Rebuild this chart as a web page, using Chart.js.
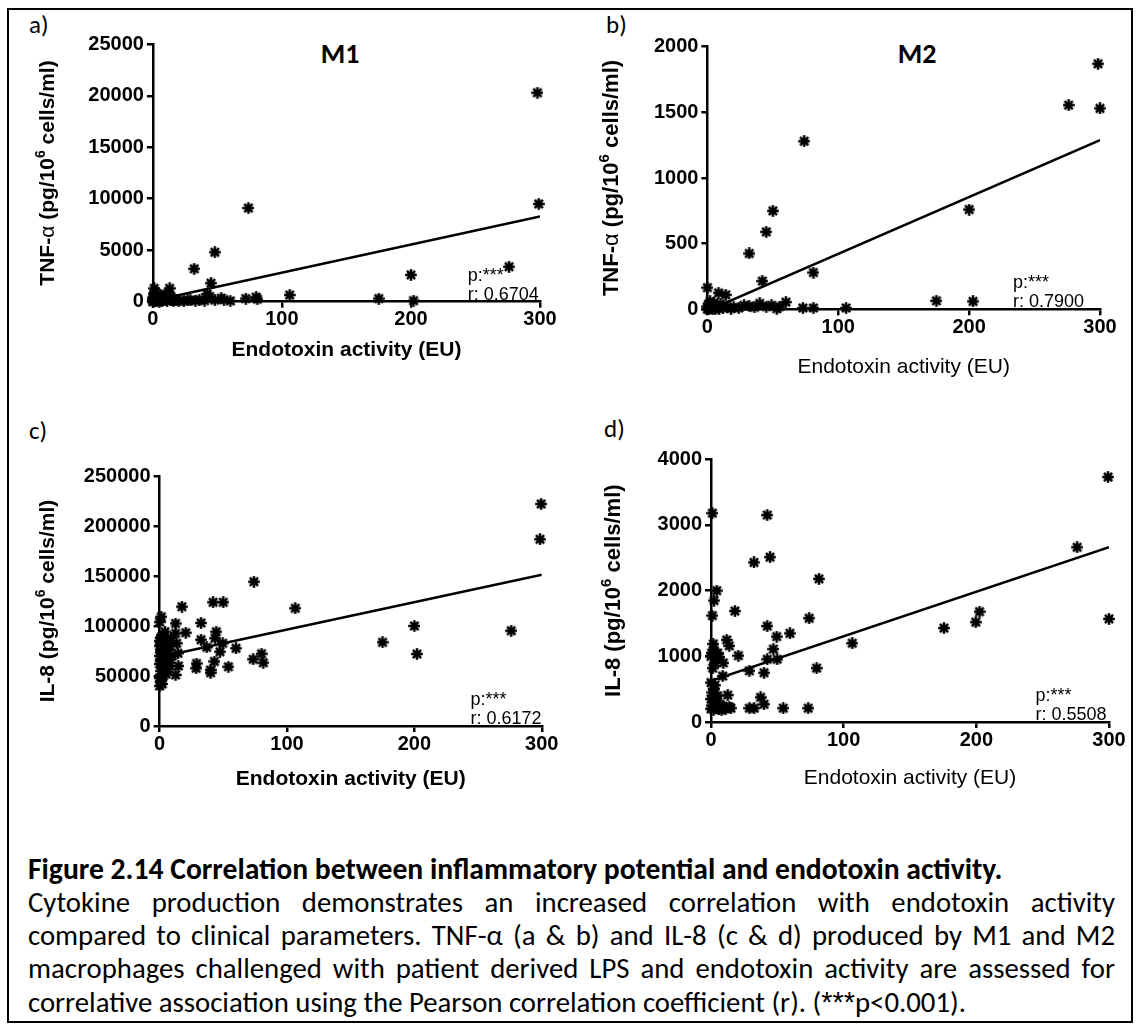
<!DOCTYPE html>
<html>
<head>
<meta charset="utf-8">
<script src="https://cdn.jsdelivr.net/npm/chart.js@4.4.1/dist/chart.umd.min.js"></script>
<style>
  body { margin: 0; background: #fff; }
  #fig { position: relative; width: 1138px; height: 1027px; overflow: hidden; color: #000;
         font-family: Carlito, Lato, sans-serif; }
  #frame { position: absolute; left: 7px; top: 8px; width: 1122px; height: 1011px; border: 2px solid #000; }
  canvas { position: absolute; }
  .lbl { position: absolute; font-size: 25px; line-height: 1; }
  .ttl { position: absolute; font-size: 28px; font-weight: bold; line-height: 1; transform: translate(-50%, -50%); }
  .cap { position: absolute; left: 28px; width: 1087px; line-height: 1; }
  .just { text-align: justify; text-align-last: justify; }
  .ast { font-family: "Liberation Sans", Arial, sans-serif; }
</style>
</head>
<body>
<div id="fig">
  <div id="frame"></div>
  <div class="lbl" style="left:29px;top:12px">a)</div>
  <div class="lbl" style="left:606px;top:12px">b)</div>
  <div class="lbl" style="left:29px;top:418px">c)</div>
  <div class="lbl" style="left:604px;top:416px">d)</div>
  <div class="ttl" style="left:340px;top:54px">M1</div>
  <div class="ttl" style="left:917px;top:54px">M2</div>
  <canvas id="chartA"></canvas>
  <canvas id="chartB"></canvas>
  <canvas id="chartC"></canvas>
  <canvas id="chartD"></canvas>
  <div class="cap" id="cap0" style="font-weight:bold">Figure 2.14 Correlation between inflammatory potential and endotoxin activity.</div>
  <div class="cap just" id="cap1">Cytokine production demonstrates an increased correlation with endotoxin activity</div>
  <div class="cap just" id="cap2">compared to clinical parameters. TNF-α (a &amp; b) and IL-8 (c &amp; d) produced by M1 and M2</div>
  <div class="cap just" id="cap3">macrophages challenged with patient derived LPS and endotoxin activity are assessed for</div>
  <div class="cap" id="cap4">correlative association using the Pearson correlation coefficient (r). (<span class="ast">***</span>p&lt;0.001).</div>
</div>
<script>
/* data: endotoxin activity (EU) vs cytokine */
var xA = [298, 299, 74, 48, 32, 45, 200, 276, 202, 175, 106, 80, 81, 72, 60, 53, 42, 44, 36, 29,
          40, 48, 55, 13, 1, 18, 20, 0, 0, 0, 1, 2, 2, 3, 4, 5, 6, 7, 8, 9,
          10, 11, 12, 14, 15, 16, 0, 3, 5, 1, 2, 6, 8, 10, 12, 14, 24, 27, 33];
var yA = [20300, 9500, 9100, 4800, 3200, 1800, 2600, 3400, 100, 300, 650, 450, 250, 300, 80, 350, 750, 500, 200, 150,
          100, 150, 200, 1300, 1300, 150, 100, 50, 200, 400, 800, 100, 600, 300, 150, 500, 200, 80, 400, 250,
          700, 100, 300, 500, 200, 80, 0, 50, 0, 300, 950, 650, 120, 300, 900, 150, 60, 120, 100];

var xB = [298.5, 300, 276, 74, 200, 50, 45, 32, 42, 81, 175, 203, 106, 81, 73, 60, 49, 40, 55, 28,
          32, 45, 0, 8.5, 14, 0, 0, 1, 2, 3, 4, 5, 6, 7, 9, 10, 12, 15, 18, 20,
          2, 4, 1, 6, 24, 36, 53];
var yB = [1870, 1530, 1555, 1280, 760, 750, 590, 425, 215, 280, 65, 60, 10, 10, 10, 55, 30, 45, 20, 30,
          25, 20, 165, 125, 110, 0, 20, 40, 10, 30, 5, 50, 15, 25, 5, 40, 10, 20, 5, 15,
          60, 35, 0, 0, 10, 15, 5];

var xC = [299.5, 298.6, 74, 42, 50, 17.5, 106.5, 200, 276, 175, 202, 32.5, 20.5, 44.5, 43.5, 32.5, 37, 49.5, 47.4, 60,
          80, 81.4, 73.5, 54, 43, 40, 40, 29, 28.7, 14.7, 12.5, 14.4, 12.5, 12.5, 13.4, 4.2, 1.3,
          0, 1, 2, 0, 3, 1, 5, 2, 0, 4, 6, 1, 3, 0, 2, 5, 7, 1, 3, 0,
          2, 4, 1, 6, 8, 0, 2, 8, 0, 10, 9];
var yC = [222000, 186700, 144300, 123700, 123700, 119300, 117700, 100000, 95300, 83700, 72000, 103000, 93300, 94300, 87700, 86300, 78700, 82700, 74300, 77700,
          72300, 63300, 66700, 59300, 64500, 56000, 53300, 62500, 57700, 60000, 51000, 72700, 102500, 92600, 82700, 94300, 109300,
          40000, 45000, 42000, 48000, 50000, 55000, 52000, 58000, 62000, 60000, 57000, 65000, 68000, 70000, 72000, 70000, 66000, 75000, 78000, 80000,
          82000, 85000, 88000, 76000, 80000, 85000, 90000, 60000, 104000, 70000, 88000];

var xD = [299.3, 276, 300, 202.4, 199.6, 175.6, 106.5, 1, 42.4, 44.5, 32.4, 81.4, 4.3, 2.3, 1, 18, 74, 42.4, 59.5, 49.5,
          11.8, 13.8, 1.7, 47, 20.6, 0.5, 6.3, 9.3, 42.4, 49.9, 28.9, 40, 79.6, 1.3, 8.8, 3, 12.6, 37.4, 40, 28.9,
          32.6, 54.5, 73.3, 13.8,
          0, 1, 2, 3, 4, 5, 6, 7, 8, 10, 0, 1, 2, 4, 0, 3, 0, 5, 2, 9, 11, 15];
var yD = [3730, 2660, 1570, 1680, 1520, 1430, 1200, 3180, 3150, 2510, 2430, 2180, 2000, 1850, 1620, 1690, 1580, 1460, 1350, 1300,
          1250, 1160, 1190, 1110, 1010, 1050, 990, 900, 955, 955, 780, 750, 820, 820, 700, 560, 410, 375, 270, 210,
          210, 210, 210, 230,
          200, 250, 190, 300, 220, 400, 200, 260, 180, 220, 350, 450, 500, 380, 600, 900, 1000, 1050, 1100, 240, 200, 210];

/* linear regression lines, ends at x = 0 and x = 300 */
var fitX = [0, 300];
var fitA = [90, 8280];
var fitB = [-11, 1289];
var fitC = [69000, 151200];
var fitD = [627, 2660];

/* axis ranges and tick steps */
var yMaxes = {a: 25000, b: 2000, c: 250000, d: 4000};
var ySteps = {a: 5000, b: 500, c: 50000, d: 1000};
var xTicks = [0, 100, 200, 300];

var rValues = {a: 'r: 0.6704', b: 'r: 0.7900', c: 'r: 0.6172', d: 'r: 0.5508'};

/* where each plot sits on the page (pixels) */
var geo = {
  a: {AL: 152.9, AR: 540, AT: 44.3, AB: 301.7, yTitleX: 46, yTitleSize: 21, xTitleY: 350, statAt: 244},
  b: {AL: 707.4, AR: 1100, AT: 46.7, AB: 309.3, yTitleX: 610, yTitleSize: 22, xTitleY: 367, statAt: 233.5},
  c: {AL: 159.6, AR: 541.8, AT: 476, AB: 726, yTitleX: 46, yTitleSize: 21, xTitleY: 779, statAt: 244},
  d: {AL: 711, AR: 1109, AT: 459.3, AB: 722, yTitleX: 612, yTitleSize: 22, xTitleY: 778, statAt: 244.6}
};

var FAM = '"Liberation Sans", Arial, sans-serif';
Chart.defaults.font.family = FAM;
Chart.defaults.color = '#000';

// filled asterisk marker like the GraphPad one
function starMark(d) {
  var c = document.createElement('canvas');
  c.width = c.height = d;
  var g = c.getContext('2d'), r = d / 2;
  g.translate(r, r);
  g.fillStyle = '#000';
  g.strokeStyle = '#000';
  g.beginPath(); g.arc(0, 0, r * 0.6, 0, Math.PI * 2); g.fill();
  g.lineWidth = d * 0.21;
  for (var k = 0; k < 8; k++) {
    var a = k * Math.PI / 4;
    g.beginPath(); g.moveTo(0, 0); g.lineTo(Math.cos(a) * r * 0.97, Math.sin(a) * r * 0.97); g.stroke();
  }
  return c;
}
var mark = starMark(12);

var statText = {
  id: 'statText',
  afterDatasetsDraw: function (chart, args, o) {
    var ctx = chart.ctx, b = chart.chartArea.bottom;
    var x = chart.scales.x.getPixelForValue(o.at);
    ctx.save();
    ctx.font = '18px ' + FAM;
    ctx.fillStyle = '#000';
    ctx.textBaseline = 'alphabetic';
    ctx.fillText('p:***', x, b - 21);
    ctx.fillText(o.r, x, b - 2);
    ctx.restore();
  }
};

// rotated y title with a real superscript 6 and a lighter alpha
var yTitle = {
  id: 'yTitle',
  afterDraw: function (chart, args, o) {
    var ctx = chart.ctx, ca = chart.chartArea;
    var s = o.size, sup = Math.round(s * 0.66);
    var parts = o.parts.map(function (p) {
      var f = p[1] === 'sup' ? 'bold ' + sup + 'px ' + FAM : p[1] + ' ' + s + 'px ' + FAM;
      ctx.font = f;
      return {t: p[0], f: f, w: ctx.measureText(p[0]).width, up: p[1] === 'sup' ? s * 0.42 : 0};
    });
    var total = parts.reduce(function (a, p) { return a + p.w; }, 0);
    ctx.save();
    ctx.translate(o.cx, (ca.top + ca.bottom) / 2);
    ctx.rotate(-Math.PI / 2);
    ctx.fillStyle = '#000';
    ctx.textBaseline = 'alphabetic';
    var x = -total / 2, base = s * 0.36;
    parts.forEach(function (p) {
      ctx.font = p.f;
      ctx.fillText(p.t, x, base - p.up);
      x += p.w;
    });
    ctx.restore();
  }
};

function makePanel(key, xs, ys, fit, titleParts, xBold) {
  var g = geo[key];
  var lh = g.yTitleSize * 1.2;
  var left = Math.round(g.yTitleX - lh / 2);
  var top = Math.round(g.AT - 20);
  var xH = g.xTitleY - g.AB + 21 * 1.2 / 2;
  var w = Math.ceil(g.AR - left + 30);
  var h = Math.ceil(g.AB - top + xH);
  var cv = document.getElementById('chart' + key.toUpperCase());
  cv.width = w; cv.height = h;
  cv.style.left = left + 'px'; cv.style.top = top + 'px';
  cv.style.width = w + 'px'; cv.style.height = h + 'px';

  var pts = xs.map(function (x, i) { return {x: x, y: ys[i]}; });
  var line = fitX.map(function (x, i) { return {x: x, y: fit[i]}; });

  var axisCommon = {
    type: 'linear',
    grid: {drawOnChartArea: false, color: '#000', lineWidth: 2.5, tickLength: 6},
    border: {color: '#000', width: 2.5}
  };

  new Chart(cv, {
    type: 'scatter',
    data: {
      datasets: [
        {data: line, showLine: true, pointRadius: 0, borderColor: '#000', borderWidth: 2.5},
        {data: pts, pointStyle: mark, pointRadius: 5, clip: false}
      ]
    },
    options: {
      responsive: false,
      animation: false,
      events: [],
      layout: {padding: {top: g.AT - top, right: w - (g.AR - left), left: 0, bottom: h - (g.AB - top) - xH}},
      plugins: {legend: {display: false}, tooltip: {enabled: false},
                statText: {at: g.statAt, r: rValues[key]},
                yTitle: {parts: titleParts, size: g.yTitleSize, cx: g.yTitleX - left}},
      scales: {
        x: Object.assign({}, axisCommon, {
          min: 0, max: 300,
          afterBuildTicks: function (s) { s.ticks = xTicks.map(function (v) { return {value: v}; }); },
          ticks: {font: {size: 20, weight: 'bold'}, padding: 0, maxRotation: 0},
          title: {display: true, text: 'Endotoxin activity (EU)', padding: 0,
                  font: {size: 21, weight: xBold ? 'bold' : 'normal'}},
          afterFit: function (s) { s.height = xH; }
        }),
        y: Object.assign({}, axisCommon, {
          min: 0, max: yMaxes[key],
          ticks: {stepSize: ySteps[key], font: {size: 20, weight: 'bold'}, padding: 3,
                  callback: function (v) { return String(v); }},
          title: {display: false},
          afterFit: function (s) { s.width = g.AL - left; }
        })
      }
    },
    plugins: [statText, yTitle]
  });
}

var tnfTitle = [['TNF-', 'bold'], ['α', 'normal'], [' (pg/10', 'bold'], ['6', 'sup'], [' cells/ml)', 'bold']];
var il8Title = [['IL-8 (pg/10', 'bold'], ['6', 'sup'], [' cells/ml)', 'bold']];

makePanel('a', xA, yA, fitA, tnfTitle, true);
makePanel('b', xB, yB, fitB, tnfTitle, false);
makePanel('c', xC, yC, fitC, il8Title, true);
makePanel('d', xD, yD, fitD, il8Title, false);

// caption: size the font so the last (unjustified) line has the reference width
var capFam = 'Carlito, Lato, sans-serif';
var mctx = document.createElement('canvas').getContext('2d');
function natW(el, weight, size) {
  mctx.font = weight + ' ' + size + 'px ' + capFam;
  return mctx.measureText(el.textContent).width;
}
var capLast = document.getElementById('cap4');
var capSize = 100 * 948 / natW(capLast, 'normal', 100);
var boldEl = document.getElementById('cap0');
var boldSize = 100 * 975 / natW(boldEl, 'bold', 100);
var capTops = [870, 903, 936, 969, 1002];
for (var i = 0; i < 5; i++) {
  var el = document.getElementById('cap' + i);
  var s = i === 0 ? boldSize : capSize;
  el.style.fontSize = s + 'px';
  el.style.top = (capTops[i] - s * 0.5) + 'px';
}
</script>
</body>
</html>
